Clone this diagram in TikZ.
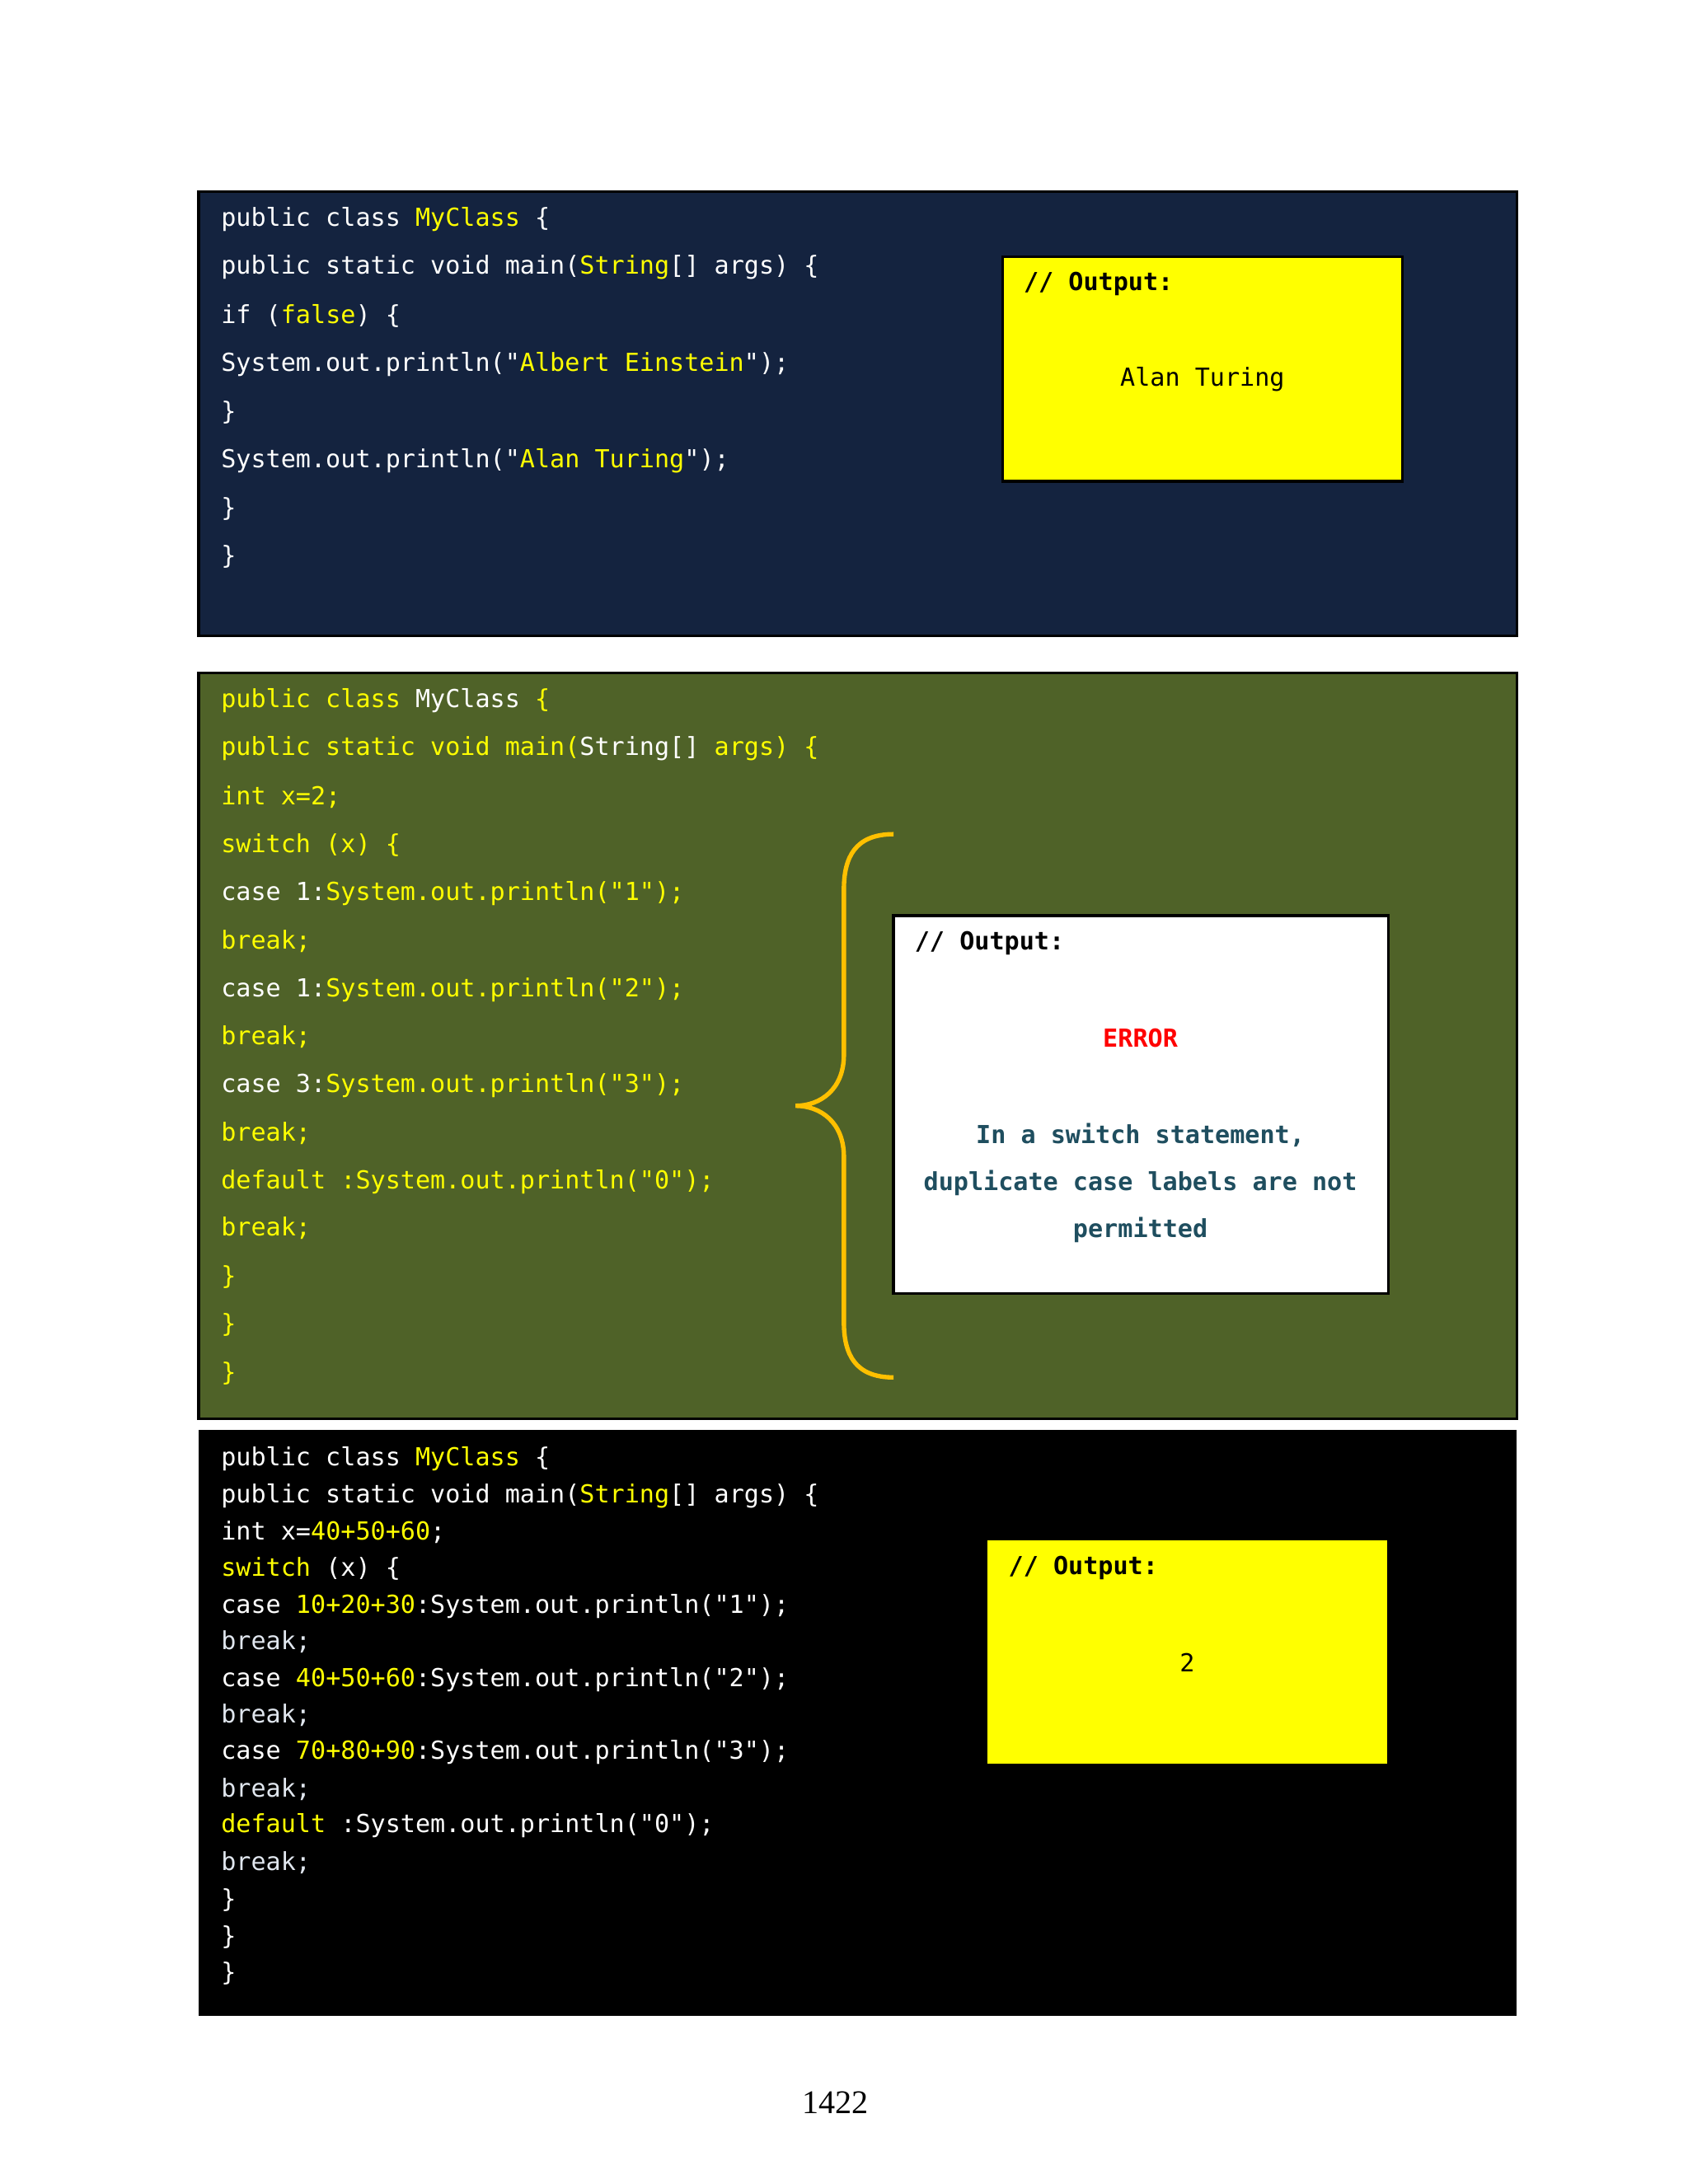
\documentclass[tikz,border=0pt]{standalone}
\usepackage{fontspec}
\setmonofont{DejaVu Sans Mono}
\setmainfont{Liberation Serif}
\definecolor{navy}{HTML}{14233F}
\definecolor{olive}{HTML}{4F6228}
\definecolor{ky}{HTML}{FFFF00}
\definecolor{br}{HTML}{FFC000}
\definecolor{teal}{HTML}{1F4E5F}
\definecolor{lg}{HTML}{E0E6EE}
\newcommand{\Y}[1]{\textcolor{ky}{#1}}
\newcommand{\W}[1]{\textcolor{white}{#1}}
\tikzset{codeA/.style={anchor=west,text=white,font=\ttfamily\fontsize{9}{9}\selectfont,inner sep=0},
codeB/.style={codeA,text=ky},
codeC/.style={codeA,text=lg},
outb/.style={draw=black,line width=1},
lbl/.style={anchor=west,font=\ttfamily\bfseries\fontsize{9}{9}\selectfont,inner sep=0},
ctr/.style={font=\ttfamily\fontsize{9}{9}\selectfont,inner sep=0}}
\begin{document}
\begin{tikzpicture}[x=0.5pt,y=-0.5pt]
\useasboundingbox[fill=white] (0,0) rectangle (1224,1584);
% box 1
\fill[navy,draw=black,line width=1] (144,139) rectangle (1100,461);
\node[codeA] (a1) at (160,159) {public class \Y{MyClass} \{};
\node[codeA] (a2) at (160,194) {public static void main(\Y{String}[] args) \{};
\node[codeA] (a3) at (160,229) {if (\Y{false}) \{};
\node[codeA] (a4) at (160,264) {System.out.println("\Y{Albert Einstein}");};
\node[codeA] (a5) at (160,299) {\}};
\node[codeA] (a6) at (160,334) {System.out.println("\Y{Alan Turing}");};
\node[codeA] (a7) at (160,369) {\}};
\node[codeA] (a8) at (160,404) {\}};
\fill[ky,outb] (727,186) rectangle (1017,349);
\node[lbl] (o1) at (742,206) {// Output:};
\node[ctr] (r1) at (872,275) {Alan Turing};
% box 2
\fill[olive,draw=black,line width=1] (144,488) rectangle (1100,1029);
\node[codeB] (b1) at (160,508) {public class \W{MyClass} \{};
\node[codeB] (b2) at (160,543) {public static void main(\W{String[]} args) \{};
\node[codeB] (b3) at (160,578) {int x=2;};
\node[codeB] (b4) at (160,613) {switch (x) \{};
\node[codeB] (b5) at (160,648) {\W{case 1:}System.out.println("1");};
\node[codeB] (b6) at (160,683) {break;};
\node[codeB] (b7) at (160,718) {\W{case 1:}System.out.println("2");};
\node[codeB] (b8) at (160,752) {break;};
\node[codeB] (b9) at (160,787) {\W{case 3:}System.out.println("3");};
\node[codeB] (b10) at (160,822) {break;};
\node[codeB] (b11) at (160,857) {default :System.out.println("0");};
\node[codeB] (b12) at (160,891) {break;};
\node[codeB] (b13) at (160,926) {\}};
\node[codeB] (b14) at (160,961) {\}};
\node[codeB] (b15) at (160,996) {\}};
\draw[br,line width=1.6] (648,605) .. controls (620,605) and (612,622) .. (612,645) -- (612,765) .. controls (612,790) and (595,802) .. (577,802) .. controls (595,802) and (612,814) .. (612,839) -- (612,959) .. controls (612,982) and (620,999) .. (648,999);
\fill[white,outb] (648,664) rectangle (1007,938);
\node[lbl] (o2) at (663,684) {// Output:};
\node[ctr,font=\ttfamily\bfseries\fontsize{9}{9}\selectfont,text=red] (e) at (827,753) {ERROR};
\node[ctr,font=\ttfamily\bfseries\fontsize{9}{9}\selectfont,text=teal] (m1) at (827,823) {In a switch statement,};
\node[ctr,font=\ttfamily\bfseries\fontsize{9}{9}\selectfont,text=teal] (m2) at (827,858) {duplicate case labels are not};
\node[ctr,font=\ttfamily\bfseries\fontsize{9}{9}\selectfont,text=teal] (m3) at (827,892) {permitted};
% box 3
\fill[black] (144,1037) rectangle (1100,1462);
\node[codeA] (c1) at (160,1058) {public class \Y{MyClass} \{};
\node[codeA] (c2) at (160,1085) {public static void main(\Y{String}[] args) \{};
\node[codeA] (c3) at (160,1111) {int x=\Y{40+50+60};};
\node[codeA] (c4) at (160,1138) {\Y{switch} (x) \{};
\node[codeA] (c5) at (160,1165) {case \Y{10+20+30}:System.out.println("1");};
\node[codeC] (c6) at (160,1191) {break;};
\node[codeA] (c7) at (160,1218) {case \Y{40+50+60}:System.out.println("2");};
\node[codeC] (c8) at (160,1244) {break;};
\node[codeA] (c9) at (160,1271) {case \Y{70+80+90}:System.out.println("3");};
\node[codeC] (c10) at (160,1298) {break;};
\node[codeA] (c11) at (160,1324) {\Y{default} :System.out.println("0");};
\node[codeC] (c12) at (160,1351) {break;};
\node[codeA] (c13) at (160,1378) {\}};
\node[codeA] (c14) at (160,1405) {\}};
\node[codeA] (c15) at (160,1431) {\}};
\fill[ky] (716,1117) rectangle (1006,1279);
\node[lbl] (o3) at (731,1137) {// Output:};
\node[ctr] (r3) at (861,1206) {2};
\node[font=\fontsize{12}{12}\selectfont] (pg) at (606,1525) {1422};
\end{tikzpicture}
\end{document}
